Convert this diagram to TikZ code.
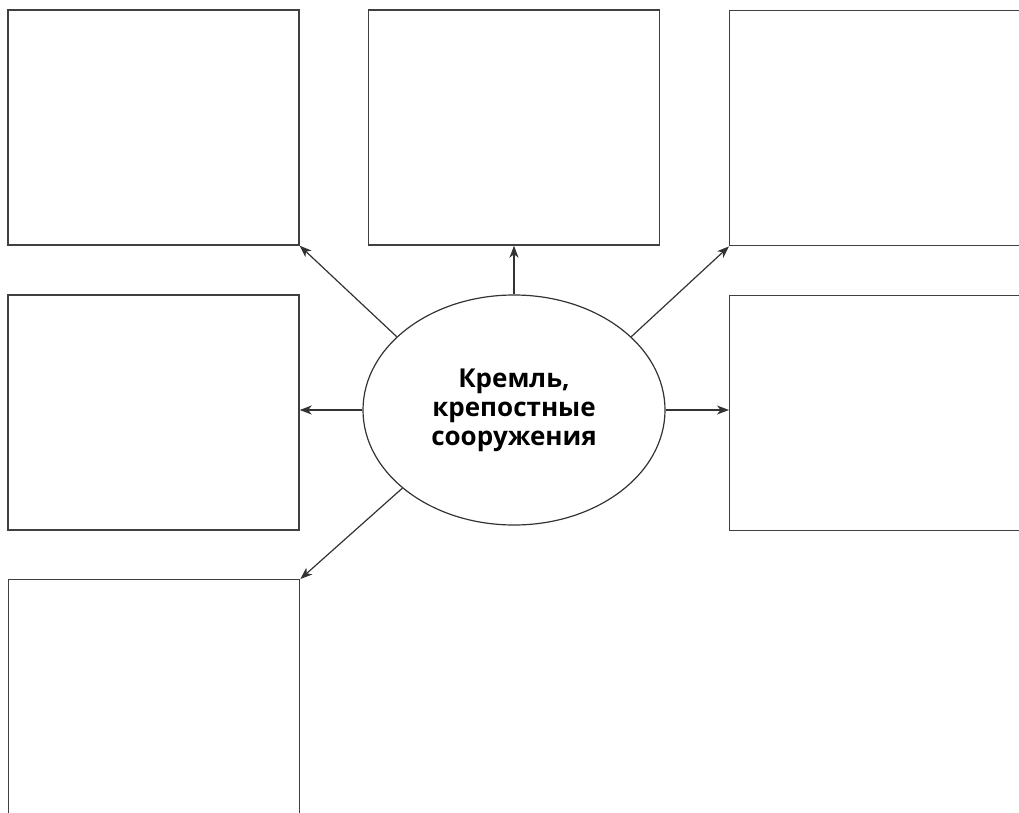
\documentclass[tikz,border=0pt]{standalone}
\usepackage{fontspec}
\setmainfont{Open Sans}
\usetikzlibrary{shapes.geometric,arrows.meta}
\begin{document}
\begin{tikzpicture}[x=1pt,y=-1pt,
  boxstyle/.style={draw=black!75,line width=1.4pt,rectangle,inner sep=0pt,minimum width=291pt,minimum height=235pt},
  conn/.style={draw=black!80,line width=1.2pt,-{Stealth[length=12pt,width=9pt,inset=3.5pt]}}]
\useasboundingbox (0,0) rectangle (1019,813);
\clip (0,0) rectangle (1019,813);
\fill[white] (0,0) rectangle (1019,813);
\node[boxstyle] (tl) at (153.5,127.5) {};
\node[boxstyle] (tm) at (514,127.5) {};
\node[boxstyle,minimum width=300pt,anchor=north west] (tr) at (729,10) {};
\node[boxstyle] (ml) at (153.5,412.5) {};
\node[boxstyle,minimum width=300pt,anchor=north west] (mr) at (729,295) {};
\node[boxstyle,minimum height=250pt,anchor=north west] (bl) at (8,579) {};
\node[draw=black!80,line width=1.2pt,ellipse,minimum width=302pt,minimum height=230pt,inner sep=0pt,
  align=center,font=\bfseries\fontsize{26pt}{29pt}\selectfont] (e) at (514,410)
  {Кремль,\\крепостные\\сооружения};
\draw[conn] (e.148) -- (tl.south east);
\draw[conn] (e.north) -- (tm.south);
\draw[conn] (e.32) -- (tr.south west);
\draw[conn] (e.west) -- (e.west -| ml.east);
\draw[conn] (e.east) -- (e.east -| mr.west);
\draw[conn] (e.215) -- (bl.north east);
\end{tikzpicture}
\end{document}
